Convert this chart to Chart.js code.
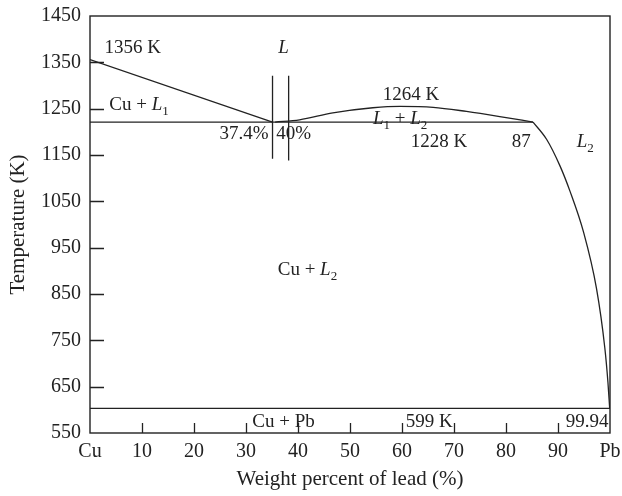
<!DOCTYPE html>
<html>
<head>
<meta charset="utf-8">
<script src="https://cdn.jsdelivr.net/npm/chart.js@4.4.1/dist/chart.umd.min.js"></script>
<style>
  html, body { margin: 0; padding: 0; background: #fff; }
  #wrap { width: 622px; height: 496px; }
</style>
</head>
<body>
<div id="wrap"><canvas id="chart"></canvas></div>
<script>
// x tick labels (0..100 step 10)
const xTickLabels = ['Cu', '10', '20', '30', '40', '50', '60', '70', '80', '90', 'Pb'];

// phase boundaries: [wt% Pb, K]
const cuLiquidus = [[0, 1356], [35.1, 1221]];
const monotectic = [[0, 1221], [85.2, 1221]];
const markLeft = [[35.1, 1321], [35.1, 1142]];
const markRight = [[38.2, 1321], [38.2, 1138]];
const dome = [[35.6, 1221], [40.3, 1226], [46.7, 1241], [54.4, 1252], [59.6, 1255],
              [66.0, 1253], [72.4, 1244], [78.8, 1233], [85.2, 1221]];
const l2Liquidus = [[85.2, 1221], [87.8, 1184], [90.4, 1126], [92.3, 1072], [94.9, 984],
                    [97.4, 862], [99.0, 734], [99.6, 660], [99.94, 603]];
const eutectic = [[0, 603], [100, 603]];

const INK = '#222';
const FONT = '"Liberation Serif", "DejaVu Serif", serif';

function pts(arr) { return arr.map(p => ({ x: p[0], y: p[1] })); }

function lineSet(arr, smooth) {
    return {
        data: pts(arr),
        showLine: true,
        borderColor: INK,
        borderWidth: 1.3,
        pointRadius: 0,
        fill: false,
        tension: smooth ? 0.4 : 0,
        cubicInterpolationMode: smooth ? 'monotone' : 'default'
    };
}

// labels on the diagram: parts are plain, italic (i) or subscript (sub)
const notes = [
    { x: 2.8, y: 1370, parts: [{ t: '1356 K' }] },
    { x: 36.2, y: 1370, parts: [{ t: 'L', i: true }] },
    { x: 3.7, y: 1247, parts: [{ t: 'Cu + ' }, { t: 'L', i: true }, { t: '1', sub: true }] },
    { x: 24.9, y: 1185, parts: [{ t: '37.4%' }] },
    { x: 35.8, y: 1185, parts: [{ t: '40%' }] },
    { x: 56.3, y: 1269, parts: [{ t: '1264 K' }] },
    { x: 54.4, y: 1217, parts: [{ t: 'L', i: true }, { t: '1', sub: true }, { t: ' + ' }, { t: 'L', i: true }, { t: '2', sub: true }] },
    { x: 61.7, y: 1168, parts: [{ t: '1228 K' }] },
    { x: 81.1, y: 1168, parts: [{ t: '87' }] },
    { x: 93.6, y: 1168, parts: [{ t: 'L', i: true }, { t: '2', sub: true }] },
    { x: 36.1, y: 890, parts: [{ t: 'Cu + ' }, { t: 'L', i: true }, { t: '2', sub: true }] },
    { x: 31.2, y: 562, parts: [{ t: 'Cu + Pb' }] },
    { x: 60.7, y: 562, parts: [{ t: '599 K' }] },
    { x: 91.5, y: 562, parts: [{ t: '99.94' }] }
];

const diagramPlugin = {
    id: 'diagram',
    afterDatasetsDraw(chart) {
        const ctx = chart.ctx;
        const a = chart.chartArea;
        const xs = chart.scales.x, ys = chart.scales.y;
        ctx.save();
        ctx.strokeStyle = INK;
        ctx.lineWidth = 1.4;
        ctx.strokeRect(a.left, a.top, a.right - a.left, a.bottom - a.top);

        // inward tick marks
        ctx.lineWidth = 1.3;
        ctx.beginPath();
        ys.ticks.forEach(t => {
            if (t.value <= 550 || t.value >= 1450) return;
            const y = Math.round(ys.getPixelForValue(t.value)) + 0.5;
            ctx.moveTo(a.left, y);
            ctx.lineTo(a.left + 14, y);
        });
        xs.ticks.forEach(t => {
            if (t.value <= 0 || t.value >= 100) return;
            const x = Math.round(xs.getPixelForValue(t.value)) + 0.5;
            ctx.moveTo(x, a.bottom);
            ctx.lineTo(x, a.bottom - 10);
        });
        ctx.stroke();

        // text labels
        ctx.fillStyle = INK;
        ctx.textBaseline = 'alphabetic';
        ctx.textAlign = 'left';
        notes.forEach(n => {
            let x = xs.getPixelForValue(n.x);
            const y = ys.getPixelForValue(n.y);
            n.parts.forEach(p => {
                if (p.sub) {
                    ctx.font = '13px ' + FONT;
                    ctx.fillText(p.t, x, y + 5);
                } else {
                    ctx.font = (p.i ? 'italic ' : '') + '19px ' + FONT;
                    ctx.fillText(p.t, x, y);
                }
                x += ctx.measureText(p.t).width;
            });
        });
        ctx.restore();
    }
};

new Chart(document.getElementById('chart'), {
    type: 'scatter',
    data: {
        datasets: [
            lineSet(cuLiquidus),
            lineSet(monotectic),
            lineSet(markLeft),
            lineSet(markRight),
            lineSet(dome, true),
            lineSet(l2Liquidus, true),
            lineSet(eutectic)
        ]
    },
    options: {
        responsive: true,
        maintainAspectRatio: false,
        animation: false,
        layout: { padding: { left: 0, right: 12, top: 16, bottom: 0 } },
        plugins: {
            legend: { display: false },
            tooltip: { enabled: false }
        },
        scales: {
            x: {
                type: 'linear',
                min: 0,
                max: 100,
                border: { display: false },
                grid: { display: false, drawTicks: false },
                ticks: {
                    stepSize: 10,
                    padding: 7,
                    color: INK,
                    font: { family: FONT, size: 20 },
                    maxRotation: 0,
                    callback: v => xTickLabels[Math.round(v / 10)]
                },
                title: {
                    display: true,
                    text: 'Weight percent of lead (%)',
                    color: INK,
                    font: { family: FONT, size: 21 },
                    padding: { top: 4 }
                },
                afterFit: s => { s.height = 63; s.paddingLeft = 0; s.paddingRight = 0; }
            },
            y: {
                min: 550,
                max: 1450,
                border: { display: false },
                grid: { display: false, drawTicks: false },
                ticks: {
                    stepSize: 100,
                    padding: 9,
                    color: INK,
                    font: { family: FONT, size: 20 },
                    callback: v => String(v)
                },
                title: {
                    display: true,
                    text: 'Temperature (K)',
                    color: INK,
                    font: { family: FONT, size: 21 },
                    padding: { top: 6, bottom: 0 }
                },
                afterFit: s => { s.width = 90; s.paddingTop = 0; s.paddingBottom = 0; }
            }
        }
    },
    plugins: [diagramPlugin]
});
</script>
</body>
</html>
